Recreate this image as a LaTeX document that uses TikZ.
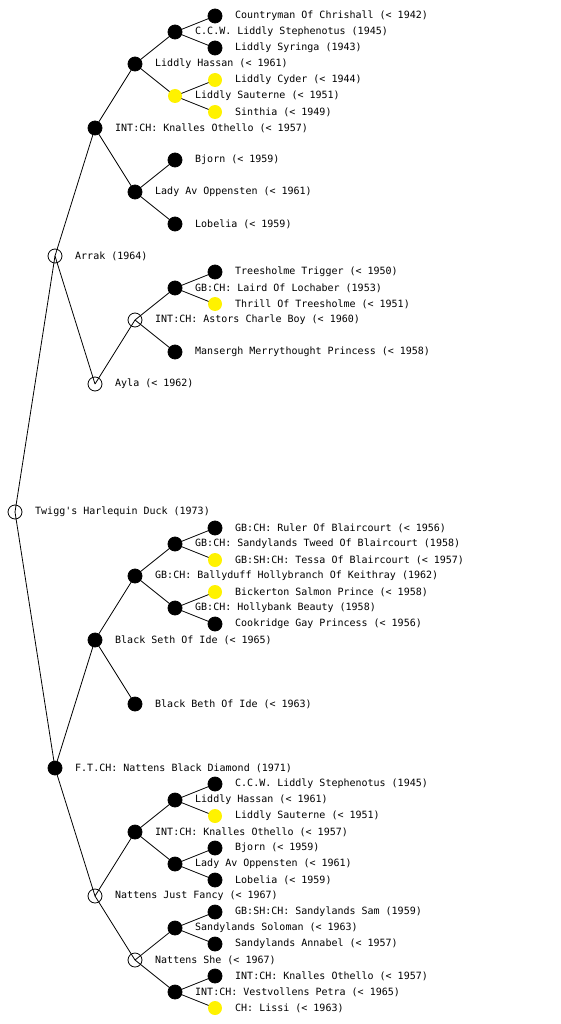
\documentclass[tikz,border=0pt]{standalone}
\usepackage{fontspec}
\setmonofont{DejaVu Sans Mono}
\usetikzlibrary{backgrounds}

\begin{document}
\begin{tikzpicture}[x=1pt,y=-1pt,
    dog/.style={circle, minimum size=14pt, inner sep=0pt, line width=0.8pt},
    opendog/.style={dog, draw=black},
    darkdog/.style={dog, draw=black, fill=black},
    yellowdog/.style={dog, fill=yellow},
    every label/.style={font=\fontsize{10}{12}\selectfont\ttfamily, inner sep=0pt},
    label distance=12.6pt]
    \useasboundingbox (0,0) rectangle (560,1024);

    % generation 0 and 1
    \node[opendog, label=east:{Twigg's Harlequin Duck (1973)}] (twigg) at (15,512) {};
    \node[opendog, label=east:{Arrak (1964)}] (arrak) at (55,256) {};
    \node[darkdog, label=east:{F.T.CH: Nattens Black Diamond (1971)}] (diamond) at (55,768) {};

    % generation 2
    \node[darkdog, label=east:{INT:CH: Knalles Othello (< 1957)}] (othello) at (95,128) {};
    \node[opendog, label=east:{Ayla (< 1962)}] (ayla) at (95,384) {};
    \node[darkdog, label=east:{Black Seth Of Ide (< 1965)}] (seth) at (95,640) {};
    \node[opendog, label=east:{Nattens Just Fancy (< 1967)}] (fancy) at (95,896) {};

    % generation 3
    \node[darkdog, label=east:{Liddly Hassan (< 1961)}] (hassan) at (135,64) {};
    \node[darkdog, label=east:{Lady Av Oppensten (< 1961)}] (lady) at (135,192) {};
    \node[opendog, label=east:{INT:CH: Astors Charle Boy (< 1960)}] (astors) at (135,320) {};
    \node[darkdog, label=east:{GB:CH: Ballyduff Hollybranch Of Keithray (1962)}] (hollybranch) at (135,576) {};
    \node[darkdog, label=east:{Black Beth Of Ide (< 1963)}] (beth) at (135,704) {};
    \node[darkdog, label=east:{INT:CH: Knalles Othello (< 1957)}] (othelloB) at (135,832) {};
    \node[opendog, label=east:{Nattens She (< 1967)}] (nshe) at (135,960) {};

    % generation 4
    \node[darkdog, label=east:{C.C.W. Liddly Stephenotus (1945)}] (stephenotus) at (175,32) {};
    \node[yellowdog, label=east:{Liddly Sauterne (< 1951)}] (sauterne) at (175,96) {};
    \node[darkdog, label=east:{Bjorn (< 1959)}] (bjorn) at (175,160) {};
    \node[darkdog, label=east:{Lobelia (< 1959)}] (lobelia) at (175,224) {};
    \node[darkdog, label=east:{GB:CH: Laird Of Lochaber (1953)}] (laird) at (175,288) {};
    \node[darkdog, label=east:{Mansergh Merrythought Princess (< 1958)}] (mansergh) at (175,352) {};
    \node[darkdog, label=east:{GB:CH: Sandylands Tweed Of Blaircourt (1958)}] (tweed) at (175,544) {};
    \node[darkdog, label=east:{GB:CH: Hollybank Beauty (1958)}] (hollybank) at (175,608) {};
    \node[darkdog, label=east:{Liddly Hassan (< 1961)}] (hassanB) at (175,800) {};
    \node[darkdog, label=east:{Lady Av Oppensten (< 1961)}] (ladyB) at (175,864) {};
    \node[darkdog, label=east:{Sandylands Soloman (< 1963)}] (soloman) at (175,928) {};
    \node[darkdog, label=east:{INT:CH: Vestvollens Petra (< 1965)}] (petra) at (175,992) {};

    % generation 5
    \node[darkdog, label=east:{Countryman Of Chrishall (< 1942)}] (countryman) at (215,16) {};
    \node[darkdog, label=east:{Liddly Syringa (1943)}] (syringa) at (215,48) {};
    \node[yellowdog, label=east:{Liddly Cyder (< 1944)}] (cyder) at (215,80) {};
    \node[yellowdog, label=east:{Sinthia (< 1949)}] (sinthia) at (215,112) {};
    \node[darkdog, label=east:{Treesholme Trigger (< 1950)}] (trigger) at (215,272) {};
    \node[yellowdog, label=east:{Thrill Of Treesholme (< 1951)}] (thrill) at (215,304) {};
    \node[darkdog, label=east:{GB:CH: Ruler Of Blaircourt (< 1956)}] (ruler) at (215,528) {};
    \node[yellowdog, label=east:{GB:SH:CH: Tessa Of Blaircourt (< 1957)}] (tessa) at (215,560) {};
    \node[yellowdog, label=east:{Bickerton Salmon Prince (< 1958)}] (bickerton) at (215,592) {};
    \node[darkdog, label=east:{Cookridge Gay Princess (< 1956)}] (cookridge) at (215,624) {};
    \node[darkdog, label=east:{C.C.W. Liddly Stephenotus (1945)}] (stephenotusB) at (215,784) {};
    \node[yellowdog, label=east:{Liddly Sauterne (< 1951)}] (sauterneB) at (215,816) {};
    \node[darkdog, label=east:{Bjorn (< 1959)}] (bjornB) at (215,848) {};
    \node[darkdog, label=east:{Lobelia (< 1959)}] (lobeliaB) at (215,880) {};
    \node[darkdog, label=east:{GB:SH:CH: Sandylands Sam (1959)}] (sam) at (215,912) {};
    \node[darkdog, label=east:{Sandylands Annabel (< 1957)}] (annabel) at (215,944) {};
    \node[darkdog, label=east:{INT:CH: Knalles Othello (< 1957)}] (othelloC) at (215,976) {};
    \node[yellowdog, label=east:{CH: Lissi (< 1963)}] (lissi) at (215,1008) {};

    % parent lines
    \begin{scope}[on background layer]
        \foreach \a/\b in {twigg/arrak, twigg/diamond,
                arrak/othello, arrak/ayla, diamond/seth, diamond/fancy,
                othello/hassan, othello/lady, ayla/astors,
                seth/hollybranch, seth/beth, fancy/othelloB, fancy/nshe,
                hassan/stephenotus, hassan/sauterne, lady/bjorn, lady/lobelia,
                astors/laird, astors/mansergh, hollybranch/tweed, hollybranch/hollybank,
                othelloB/hassanB, othelloB/ladyB, nshe/soloman, nshe/petra,
                stephenotus/countryman, stephenotus/syringa, sauterne/cyder, sauterne/sinthia,
                laird/trigger, laird/thrill, tweed/ruler, tweed/tessa,
                hollybank/bickerton, hollybank/cookridge,
                hassanB/stephenotusB, hassanB/sauterneB, ladyB/bjornB, ladyB/lobeliaB,
                soloman/sam, soloman/annabel, petra/othelloC, petra/lissi}
            \draw[line width=0.8pt] (\a.center) -- (\b.center);
    \end{scope}
\end{tikzpicture}
\end{document}
